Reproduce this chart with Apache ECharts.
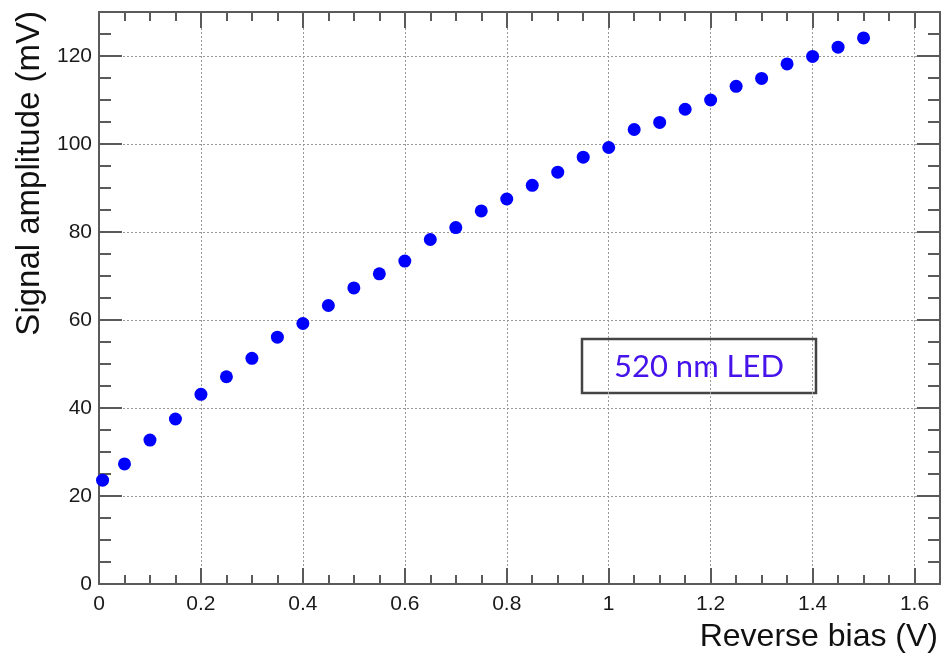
<!DOCTYPE html>
<html>
<head>
<meta http-equiv="Content-Type" content="text/html; charset=utf-8" />
<title>Signal amplitude vs reverse bias</title>
<style type="text/css">
body,div{margin:0;padding:0;}
#chart{width:944px;height:658px;background:#fff;}
</style>
<script src="https://cdn.jsdelivr.net/npm/echarts@6/dist/echarts.min.js" type="text/javascript"></script>
<script type="text/javascript">
// reverse bias (V) and signal amplitude (mV)
var biasV = [0.007, 0.05, 0.1, 0.15, 0.2, 0.25, 0.3, 0.35, 0.4, 0.45,
             0.5, 0.55, 0.6, 0.65, 0.7, 0.75, 0.8, 0.85, 0.9, 0.95,
             1.0, 1.05, 1.1, 1.15, 1.2, 1.25, 1.3, 1.35, 1.4, 1.45, 1.5];
var amplitudeMV = [23.6, 27.3, 32.7, 37.5, 43.1, 47.1, 51.3, 56.1, 59.2, 63.3,
                   67.3, 70.5, 73.4, 78.3, 81.0, 84.8, 87.5, 90.6, 93.6, 97.0,
                   99.2, 103.3, 104.9, 107.9, 110.0, 113.1, 114.9, 118.2, 119.9, 122.0, 124.1];

// tick labels
var xTicks = [0, 0.2, 0.4, 0.6, 0.8, 1, 1.2, 1.4, 1.6];
var yTicks = [0, 20, 40, 60, 80, 100, 120];
var xMinorStep = 0.05, yMinorStep = 5;
var xMax = 1.65, yMax = 130;

var seriesName = '520 nm LED';
var xTitle = 'Reverse bias (V)';
var yTitle = 'Signal amplitude (mV)';

var frameColor = '#5a5a5a';
var font = 'Liberation Sans';

window.onload = function ()
{
    var myChart = echarts.init(document.getElementById('chart'));
    var gridBox = {left: 99, right: 4, top: 12, bottom: 74};

    var points = [];
    for (var i = 0; i < biasV.length; i++) {
        points.push([biasV[i], amplitudeMV[i]]);
    }

    // major = labelled axis with grid lines, otherwise only the minor ticks
    // onZero off, or the top/right axes get pulled onto bottom/left
    function xAxisOf(gridIndex, pos, major) {
        return {
            type: 'value', gridIndex: gridIndex, position: pos,
            min: 0, max: xMax,
            interval: major ? xTicks[1] - xTicks[0] : xMinorStep,
            axisLine: {show: major, onZero: false, lineStyle: {color: frameColor, width: 2}},
            axisTick: {show: true, inside: true, length: major ? 16 : 9,
                       lineStyle: {color: frameColor, width: 2}},
            axisLabel: {show: major && pos === 'bottom', showMaxLabel: false,
                        margin: 10, fontSize: 21, color: '#1a1a1a', fontFamily: font},
            splitLine: {show: major && pos === 'bottom',
                        lineStyle: {color: '#999', width: 1, type: [2, 2]}}
        };
    }
    function yAxisOf(gridIndex, pos, major) {
        return {
            type: 'value', gridIndex: gridIndex, position: pos,
            min: 0, max: yMax,
            interval: major ? yTicks[1] - yTicks[0] : yMinorStep,
            axisLine: {show: major, onZero: false, lineStyle: {color: frameColor, width: 2}},
            axisTick: {show: true, inside: true, length: major ? 23 : 12,
                       lineStyle: {color: frameColor, width: 2}},
            axisLabel: {show: major && pos === 'left', showMaxLabel: false,
                        margin: 7, fontSize: 21, color: '#1a1a1a', fontFamily: font},
            splitLine: {show: major && pos === 'left',
                        lineStyle: {color: '#999', width: 1, type: [2, 2]}}
        };
    }

    var option = {
        backgroundColor: '#fff',
        animation: false,
        grid: [
            Object.assign({}, gridBox),
            Object.assign({}, gridBox)
        ],
        xAxis: [
            xAxisOf(0, 'bottom', true),
            xAxisOf(0, 'top', true),
            xAxisOf(1, 'bottom', false),
            xAxisOf(1, 'top', false)
        ],
        yAxis: [
            yAxisOf(0, 'left', true),
            yAxisOf(0, 'right', true),
            yAxisOf(1, 'left', false),
            yAxisOf(1, 'right', false)
        ],
        series: [
            {
                name: seriesName,
                type: 'scatter',
                xAxisIndex: 0,
                yAxisIndex: 0,
                symbol: 'circle',
                symbolSize: 13,
                itemStyle: {color: '#0000ff', opacity: 1},
                clip: false,
                data: points
            }
        ],
        graphic: [
            {
                type: 'text', x: 938, y: 637,
                style: {text: xTitle, font: '32px "' + font + '"', fill: '#111',
                        align: 'right', verticalAlign: 'middle'}
            },
            {
                type: 'text', x: 30, y: 11, rotation: Math.PI / 2,
                style: {text: yTitle, font: '33px "' + font + '"', fill: '#111',
                        align: 'right', verticalAlign: 'middle'}
            },
            {
                type: 'group', x: 582, y: 339,
                children: [
                    {type: 'rect', shape: {x: 0, y: 0, width: 234, height: 54},
                     style: {fill: '#fff', stroke: '#444', lineWidth: 2.5}},
                    {type: 'text', x: 117, y: 28,
                     style: {text: seriesName, font: '31px Lato', fill: '#4614eb',
                             align: 'center', verticalAlign: 'middle'}}
                ]
            }
        ]
    };
    myChart.setOption(option);
};
</script>
</head>
<body>
<div id="chart"></div>
</body>
</html>
